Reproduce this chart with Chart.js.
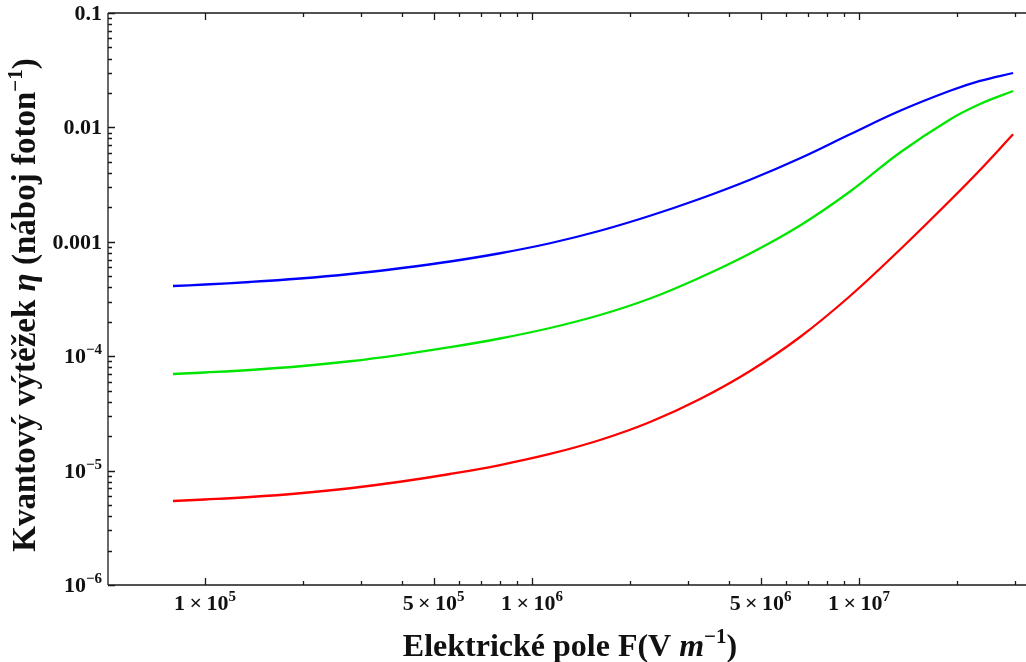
<!DOCTYPE html>
<html lang="cs">
<head>
    <meta charset="UTF-8">
    <script src="https://cdn.jsdelivr.net/npm/chart.js@4"></script>
    <title>Kvantový výtěžek</title>
    <style>
        body { margin: 0; background: #fff; }
    </style>
</head>
<body>
    <canvas id="graf" width="1026" height="662"></canvas>
<script>
    // hodnoty (pole F ve V/m, výtěžek v náboj/foton)
    var poleF = [7.98e4, 1e5, 1.373e5, 1.952e5, 2.776e5, 3.948e5, 5.614e5, 7.983e5, 1.135e6, 1.614e6,
                 2.296e6, 3.265e6, 4.642e6, 6.601e6, 9.387e6, 1.335e7, 1.898e7, 2.344e7, 2.958e7];
    var vytezekModra = [4.108e-4, 4.234e-4, 4.453e-4, 4.777e-4, 5.231e-4, 5.872e-4, 6.727e-4, 7.941e-4, 9.712e-4, 1.249e-3,
                        1.689e-3, 2.378e-3, 3.486e-3, 5.375e-3, 8.711e-3, 1.398e-2, 2.091e-2, 2.552e-2, 2.989e-2];
    var vytezekZelena = [6.990e-5, 7.204e-5, 7.576e-5, 8.170e-5, 9.035e-5, 1.029e-4, 1.198e-4, 1.428e-4, 1.764e-4, 2.291e-4,
                         3.194e-4, 4.873e-4, 7.901e-4, 1.388e-3, 2.753e-3, 6.035e-3, 1.173e-2, 1.601e-2, 2.080e-2];
    var vytezekCervena = [5.424e-6, 5.590e-6, 5.877e-6, 6.339e-6, 7.011e-6, 7.988e-6, 9.339e-6, 1.119e-5, 1.397e-5, 1.851e-5,
                          2.660e-5, 4.224e-5, 7.424e-5, 1.472e-4, 3.359e-4, 8.564e-4, 2.296e-3, 4.242e-3, 8.7e-3];

    // popisky os
    var xTicks = [1e5, 5e5, 1e6, 5e6, 1e7];
    var xTickLabels = [['1\u2009×\u200910', '5'], ['5\u2009×\u200910', '5'], ['1\u2009×\u200910', '6'], ['5\u2009×\u200910', '6'], ['1\u2009×\u200910', '7']];
    var xMinorTicks = [2e5, 3e5, 4e5, 6e5, 7e5, 8e5, 9e5, 2e6, 3e6, 4e6, 6e6, 7e6, 8e6, 9e6, 2e7, 3e7];
    var yTicks = [0.1, 0.01, 0.001, 1e-4, 1e-5, 1e-6];
    var yTickLabels = [['0.1', ''], ['0.01', ''], ['0.001', ''], ['10', '\u22124'], ['10', '\u22125'], ['10', '\u22126']];
    var yMinorTicks = [];
    [1e-6, 1e-5, 1e-4, 1e-3, 1e-2].forEach(function(d) {
        for (var k = 2; k <= 9; k++) yMinorTicks.push(k * d);
    });

    var serif = '"Liberation Serif", "Times New Roman", serif';

    function body(arr) {
        return poleF.map(function(f, j) { return { x: f, y: arr[j] }; });
    }

    // vykreslí text složený z několika kousků (horní index, kurzíva)
    function kresliText(ctx, casti, x, y, zarovnani) {
        var sirka = 0;
        casti.forEach(function(c) { ctx.font = c.font; sirka += ctx.measureText(c.t).width; });
        var start = x;
        if (zarovnani === 'center') start = x - sirka / 2;
        if (zarovnani === 'right') start = x - sirka;
        ctx.textAlign = 'left';
        ctx.textBaseline = 'alphabetic';
        casti.forEach(function(c) {
            ctx.font = c.font;
            ctx.fillText(c.t, start, y - (c.dy || 0));
            start += ctx.measureText(c.t).width;
        });
    }

    var ramPlugin = {
        id: 'ram',
        afterDraw: function(chart) {
            var ctx = chart.ctx;
            var a = chart.chartArea;
            var sx = chart.scales.x, sy = chart.scales.y;
            ctx.save();
            ctx.strokeStyle = '#1a1a1a';
            ctx.fillStyle = '#111';
            ctx.lineWidth = 1.3;
            ctx.beginPath();
            ctx.moveTo(a.left, a.top); ctx.lineTo(a.right, a.top);
            ctx.moveTo(a.left, a.top); ctx.lineTo(a.left, a.bottom);
            ctx.moveTo(a.left, a.bottom); ctx.lineTo(a.right, a.bottom);
            // dílky na ose x (dole i nahoře, směrem dovnitř)
            function xDilek(v, d) {
                var px = Math.round(sx.getPixelForValue(v)) + 0.5;
                ctx.moveTo(px, a.bottom); ctx.lineTo(px, a.bottom - d);
                ctx.moveTo(px, a.top); ctx.lineTo(px, a.top + d);
            }
            function yDilek(v, d) {
                var py = Math.round(sy.getPixelForValue(v)) + 0.5;
                ctx.moveTo(a.left, py); ctx.lineTo(a.left + d, py);
            }
            xTicks.forEach(function(v) { xDilek(v, 7); });
            xMinorTicks.forEach(function(v) { xDilek(v, 4); });
            yTicks.forEach(function(v) { yDilek(v, 7); });
            yMinorTicks.forEach(function(v) { yDilek(v, 4); });
            ctx.stroke();

            var f = 'bold 22px ' + serif;
            var fs = 'bold 15px ' + serif;
            xTicks.forEach(function(v, i) {
                var px = sx.getPixelForValue(v);
                kresliText(ctx, [{ t: xTickLabels[i][0], font: f }, { t: xTickLabels[i][1], font: fs, dy: 9 }], px, 610, 'center');
            });
            yTicks.forEach(function(v, i) {
                var py = sy.getPixelForValue(v);
                kresliText(ctx, [{ t: yTickLabels[i][0], font: f }, { t: yTickLabels[i][1], font: fs, dy: 9 }], a.left - 6, py + 7, 'right');
            });

            // názvy os
            var ft = 'bold 32px ' + serif;
            var fti = 'italic bold 32px ' + serif;
            var fts = 'bold 21px ' + serif;
            kresliText(ctx, [
                { t: 'Elektrické pole F(V ', font: ft },
                { t: 'm', font: fti },
                { t: '\u22121', font: fts, dy: 13 },
                { t: ')', font: ft }
            ], 570, 656, 'center');
            var gt = 'bold 33px ' + serif;
            var gti = 'italic bold 33px ' + serif;
            ctx.translate(35, 305);
            ctx.rotate(-Math.PI / 2);
            kresliText(ctx, [
                { t: 'Kvantový výtěžek ', font: gt },
                { t: 'η', font: gti },
                { t: ' (náboj foton', font: gt },
                { t: '\u22121', font: fts, dy: 13 },
                { t: ')', font: gt }
            ], 0, 0, 'center');
            ctx.restore();
        }
    };

    var data = {
        datasets: [
            { label: 'modrá', data: body(vytezekModra), borderColor: 'rgb(0, 0, 255)', backgroundColor: 'rgb(0, 0, 255)' },
            { label: 'zelená', data: body(vytezekZelena), borderColor: 'rgb(0, 230, 0)', backgroundColor: 'rgb(0, 230, 0)' },
            { label: 'červená', data: body(vytezekCervena), borderColor: 'rgb(255, 0, 0)', backgroundColor: 'rgb(255, 0, 0)' }
        ]
    };

    var options = {
        responsive: false,
        animation: false,
        layout: { padding: { top: 13, right: 0, left: 0, bottom: 0 } },
        plugins: {
            legend: { display: false },
            tooltip: { enabled: false }
        },
        elements: {
            point: { radius: 0 },
            line: { borderWidth: 2.3, tension: 0.4 }
        },
        scales: {
            x: {
                type: 'logarithmic',
                min: 5.05e4,
                max: 3.24e7,
                grid: { display: false },
                border: { display: false },
                ticks: { display: false },
                afterFit: function(s) { s.height = 77; }
            },
            y: {
                type: 'logarithmic',
                min: 1e-6,
                max: 0.1,
                grid: { display: false },
                border: { display: false },
                ticks: { display: false },
                afterFit: function(s) { s.width = 108; }
            }
        }
    };

    new Chart('graf', { type: 'line', data: data, options: options, plugins: [ramPlugin] });
</script>
</body>
</html>
